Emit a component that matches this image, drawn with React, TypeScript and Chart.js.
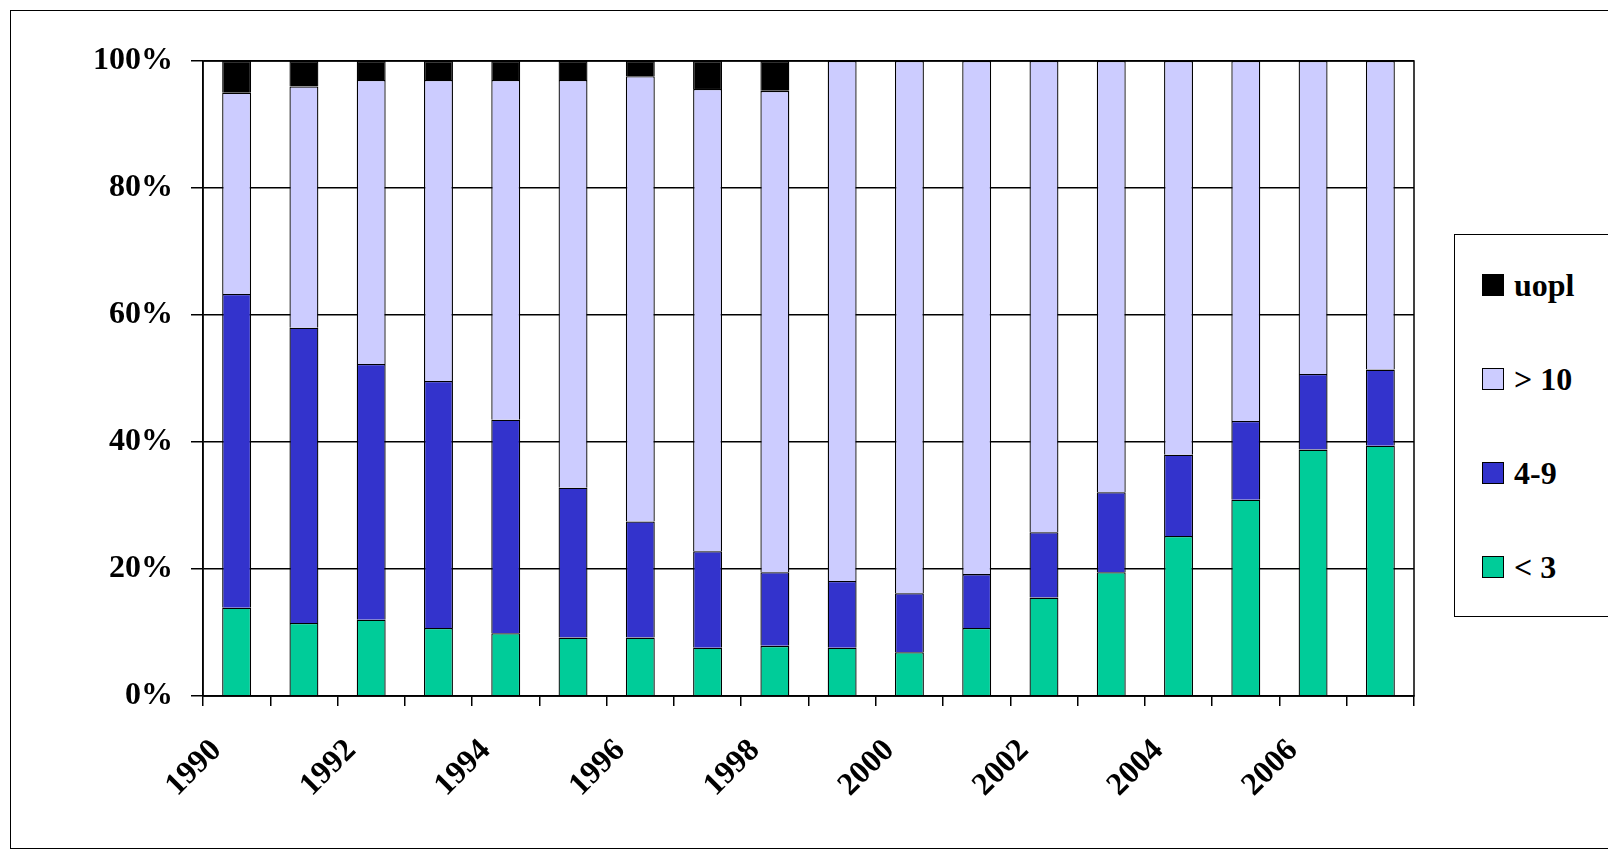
import React, { useEffect, useRef } from "react";
import { Chart, registerables } from "chart.js";
Chart.register(...registerables);

const years = ["1990","1991","1992","1993","1994","1995","1996","1997","1998","1999","2000","2001","2002","2003","2004","2005","2006","2007"];
const lt3 = [13.9,11.5,12.0,10.7,9.9,9.2,9.2,7.6,7.9,7.6,6.9,10.7,15.5,19.5,25.2,30.9,38.8,39.4];
const r4to9 = [49.4,46.5,40.3,38.9,33.6,23.6,18.3,15.2,11.6,10.5,9.3,8.5,10.3,12.6,12.8,12.4,11.9,12.0];
const gt10 = [31.7,38.0,44.7,47.4,53.5,64.2,70.1,72.8,75.8,81.9,83.8,80.8,74.2,67.9,62.0,56.7,49.3,48.6];
const uopl = [5.0,4.0,3.0,3.0,3.0,3.0,2.4,4.4,4.7,0,0,0,0,0,0,0,0,0];
const yTicks = ["0%","20%","40%","60%","80%","100%"];

const legendItems = [
  { label: "uopl", color: "#000000" },
  { label: "> 10", color: "#CCCCFF" },
  { label: "4-9", color: "#3333CC" },
  { label: "< 3", color: "#00CC99" },
];

export default function App() {
  const ref = useRef<HTMLCanvasElement>(null);
  useEffect(() => {
    document.body.style.margin = "0";
    const font = { family: "'Liberation Serif', 'Times New Roman', serif", weight: "bold" as const };
    const mk = (label: string, data: number[], color: string) => ({
      label, data, backgroundColor: color, borderColor: "#000", borderWidth: 1.3,
      barPercentage: 0.43, categoryPercentage: 1,
    });
    const chart = new Chart(ref.current!, {
      type: "bar",
      data: {
        labels: years,
        datasets: [
          mk("< 3", lt3, "#00CC99"),
          mk("4-9", r4to9, "#3333CC"),
          mk("> 10", gt10, "#CCCCFF"),
          mk("uopl", uopl, "#000000"),
        ],
      },
      options: {
        animation: false,
        responsive: false,
        layout: { padding: { left: 0, right: 194, top: 61, bottom: 0 } },
        plugins: { legend: { display: false }, tooltip: { enabled: false } },
        scales: {
          x: {
            stacked: true,
            grid: { offset: true, drawOnChartArea: false, color: "#000", tickLength: 10, tickColor: "#000", lineWidth: 1.5 },
            border: { color: "#000", width: 1.5 },
            ticks: {
              autoSkip: false, maxRotation: 45, minRotation: 45, color: "#000", padding: 26, labelOffset: -20,
              font: { ...font, size: 32 },
              callback: (_v: any, i: number) => (i % 2 === 0 ? years[i] : ""),
            },
            afterFit: (s: any) => { s.height = 153; },
          },
          y: {
            stacked: true, min: 0, max: 100,
            ticks: { stepSize: 20, color: "#000", font: { ...font, size: 32 }, padding: 18,
              callback: (v: any) => yTicks[Math.round(v / 20)] },
            grid: { color: "#000", lineWidth: 1.5, tickLength: 12, tickColor: "#000" },
            border: { color: "#000", width: 1.5 },
            afterFit: (s: any) => { s.width = 203; },
          },
        },
      },
      plugins: [{
        id: "frame",
        afterDraw(c: any) {
          const { ctx, chartArea: a } = c;
          ctx.save(); ctx.strokeStyle = "#000"; ctx.lineWidth = 1.5;
          ctx.strokeRect(a.left, a.top, a.right - a.left, a.bottom - a.top);
          ctx.restore();
        },
      }],
    });
    return () => chart.destroy();
  }, []);
  return (
    <div style={{ position: "relative", width: 1608, height: 849, background: "#fff", overflow: "hidden" }}>
      <div style={{ position: "absolute", left: 10, top: 10, width: 1620, height: 837, border: "1.5px solid #000" }} />
      <canvas ref={ref} width={1608} height={849} style={{ position: "absolute", left: 0, top: 0 }} />
      <div style={{ position: "absolute", left: 1454, top: 234, width: 200, height: 381, border: "1.5px solid #000", background: "#fff",
        fontFamily: "'Liberation Serif', serif", fontWeight: "bold", fontSize: 32 }}>
        {legendItems.map((it, i) => (
          <div key={it.label} style={{ position: "absolute", left: 27, top: 31 + i * 94, display: "flex", alignItems: "center", height: 38 }}>
            <span style={{ display: "inline-block", width: 20, height: 20, background: it.color, border: "1.3px solid #000", marginRight: 10 }} />
            <span>{it.label}</span>
          </div>
        ))}
      </div>
    </div>
  );
}
